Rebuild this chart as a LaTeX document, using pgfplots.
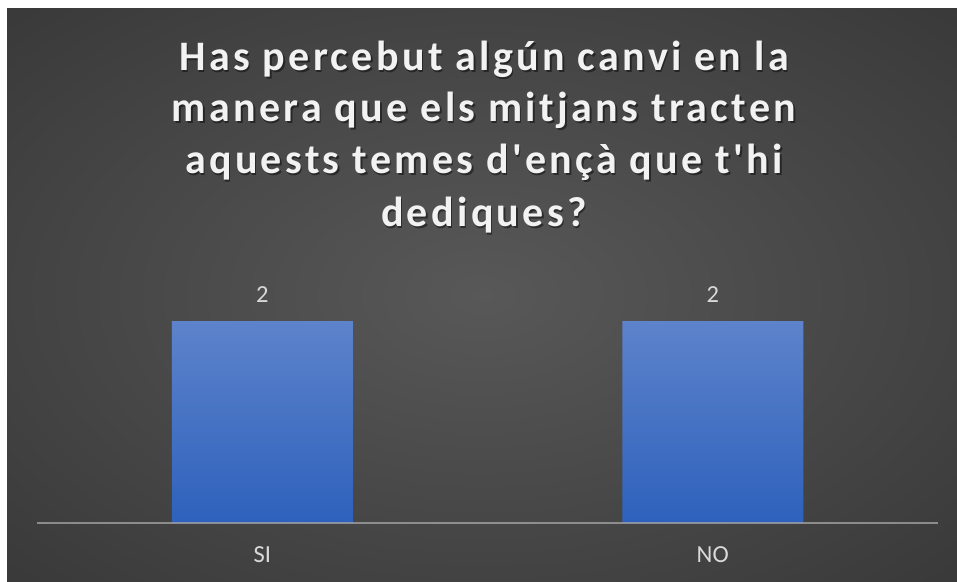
\documentclass[border=0pt]{standalone}
\usepackage{fontspec}
\setmainfont{Carlito}
\newfontfamily\titlefont[LetterSpace=8]{Carlito}
\usepackage{pgfplots}
\pgfplotsset{compat=1.18}

\definecolor{bgin}{RGB}{88,88,88}
\definecolor{bgout}{RGB}{36,36,36}
\definecolor{bartop}{RGB}{93,131,203}
\definecolor{barbot}{RGB}{46,97,188}
\definecolor{lbl}{RGB}{217,217,217}
\definecolor{ttl}{RGB}{242,242,242}
\definecolor{axgray}{RGB}{166,166,166}

\pgfdeclareradialshading{chartbg}{\pgfpoint{0bp}{0bp}}{color(0bp)=(bgin); color(60bp)=(bgout); color(80bp)=(bgout)}

\begin{document}
\begin{tikzpicture}[x=1pt,y=1pt]
  \fill[white] (0,0) rectangle (957,581);
  \shade[shading=chartbg] (7,0) rectangle (957,572);

  % title, one node per line
  \foreach \yy/\txt in {510.3/{Has percebut algún canvi en la},
                        459.3/{manera que els mitjans tracten},
                        407/{aquests temes d'ençà que t'hi},
                        354.3/{dediques?}} {
    \node[anchor=base, text=black, opacity=0.45, inner sep=0]
      at (485.5,\yy-1.5) {\fontsize{42}{50}\titlefont\bfseries \txt};
    \node[anchor=base, text=ttl, inner sep=0]
      at (484,\yy) {\fontsize{42}{50}\titlefont\bfseries \txt};
  }

  \begin{axis}[
      at={(37pt,58pt)}, anchor=south west,
      scale only axis,
      width=901pt, height=252.5pt,
      xmin=-0.5, xmax=1.5,
      ymin=0, ymax=2.5,
      axis y line=none,
      axis x line*=bottom,
      x axis line style={draw=none},
      xtick={0,1},
      xticklabels={SI,NO},
      major tick length=0pt,
      ytick=\empty,
      xticklabel style={anchor=center, yshift=-32pt, text=lbl,
        font=\fontsize{24.5}{29}\selectfont},
      ybar,
      bar width=181pt,
      nodes near coords,
      every node near coord/.append style={anchor=center, yshift=26pt,
        text=lbl, font=\fontsize{24.5}{29}\selectfont},
      /pgf/number format/assume math mode=true,
      clip=false,
    ]
    \addplot[draw=none, top color=bartop, bottom color=barbot]
      coordinates {(0,2) (1,2)};
    \draw[axgray, line width=2pt, opacity=0.75]
      (axis cs:-0.5,0) -- (axis cs:1.5,0);
  \end{axis}
\end{tikzpicture}
\end{document}
